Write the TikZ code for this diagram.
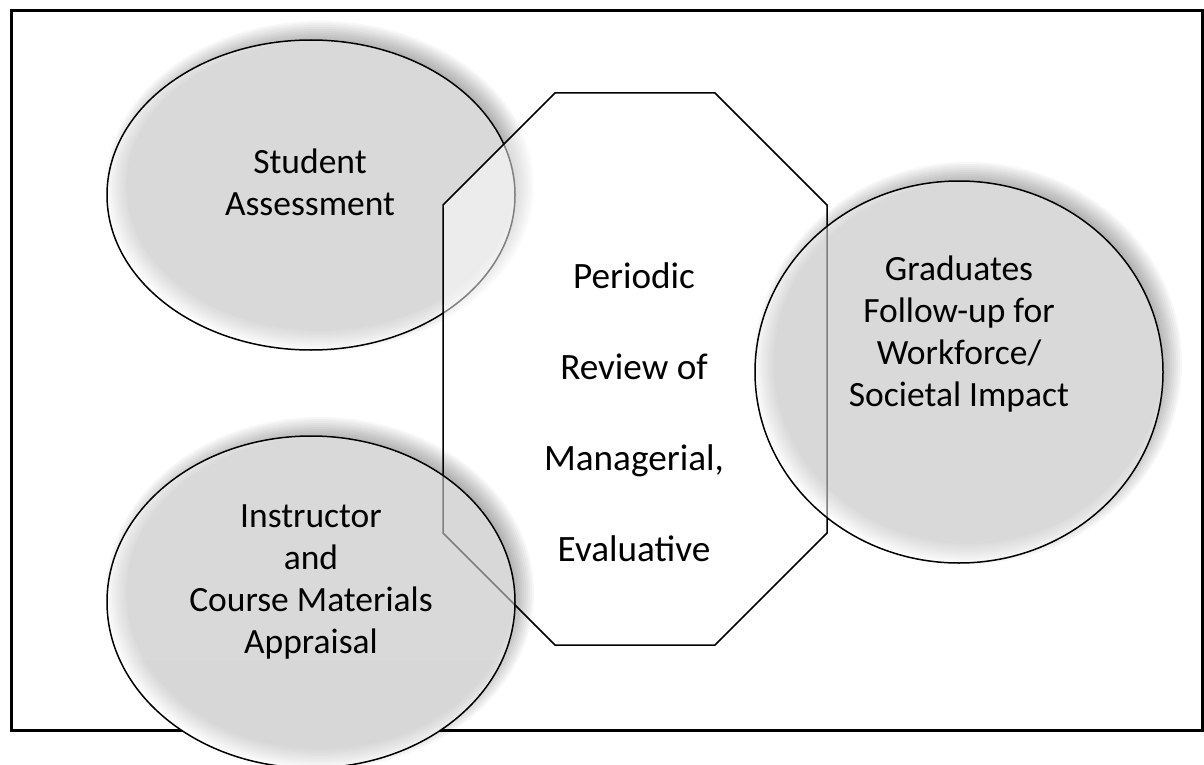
\documentclass[tikz,border=0pt]{standalone}
\usepackage{fontspec}
\setmainfont{Carlito}
\usepackage{tikz}
\usetikzlibrary{calc}

\tikzset{
  bubble/.style = {fill = white, fill opacity = 0.5, draw = black, line width = 0.75pt},
  bubble text/.style = {inner sep = 0pt, align = center, font = \fontsize{17.75pt}{21pt}\selectfont},
  review text/.style = {inner sep = 0pt, align = center, font = \fontsize{18.6pt}{45.5pt}\selectfont},
}
\newcommand{\bubbleshadow}[3]{%
  \foreach \k in {-5,...,5}
    \fill[black, opacity = 0.03] ($(#1) + (9,-9)$) ellipse [x radius = #2 + 2*\k, y radius = #3 + 2*\k];
}

\begin{document}
\begin{tikzpicture}[x = 0.5pt, y = -0.5pt]
\useasboundingbox (0,0) rectangle (1204,765);
\coordinate (frame nw) at (11,11);
\coordinate (frame se) at (1202,730);
\coordinate (sa) at (311,195);
\coordinate (ia) at (311,602);
\coordinate (gf) at (959,372);
\coordinate (p1) at (555,93);
\coordinate (p2) at (715,93);
\coordinate (p3) at (827,205);
\coordinate (p4) at (827,533);
\coordinate (p5) at (715,645);
\coordinate (p6) at (555,645);
\coordinate (p7) at (443,533);
\coordinate (p8) at (443,205);
\draw[line width = 1.5pt] (frame nw) rectangle (frame se);
% student assessment
\bubbleshadow{sa}{204}{155}
\filldraw[bubble] (sa) ellipse [x radius = 204, y radius = 155];
\node[bubble text] (sa text) at (310,182) {Student\\Assessment};
% periodic review
\filldraw[bubble] (p1)--(p2)--(p3)--(p4)--(p5)--(p6)--(p7)--(p8)--cycle;
\node[review text] (pr text) at (634,412) {Periodic\\Review of\\Managerial,\\Evaluative};
% instructor appraisal
\begin{scope}
\clip (0,660) rectangle (1204,765);
\fill[white] (ia) ellipse [x radius = 204, y radius = 166];
\end{scope}
\bubbleshadow{ia}{204}{166}
\filldraw[bubble] (ia) ellipse [x radius = 204, y radius = 166];
\node[bubble text] (ia text) at (311,582) {Instructor\\and\\Course Materials\\Appraisal};
% graduates follow-up
\bubbleshadow{gf}{204}{191}
\filldraw[bubble] (gf) ellipse [x radius = 204, y radius = 191];
\node[bubble text] (gf text) at (959,334) {Graduates\\Follow-up for\\Workforce/\\Societal Impact};
\end{tikzpicture}
\end{document}
